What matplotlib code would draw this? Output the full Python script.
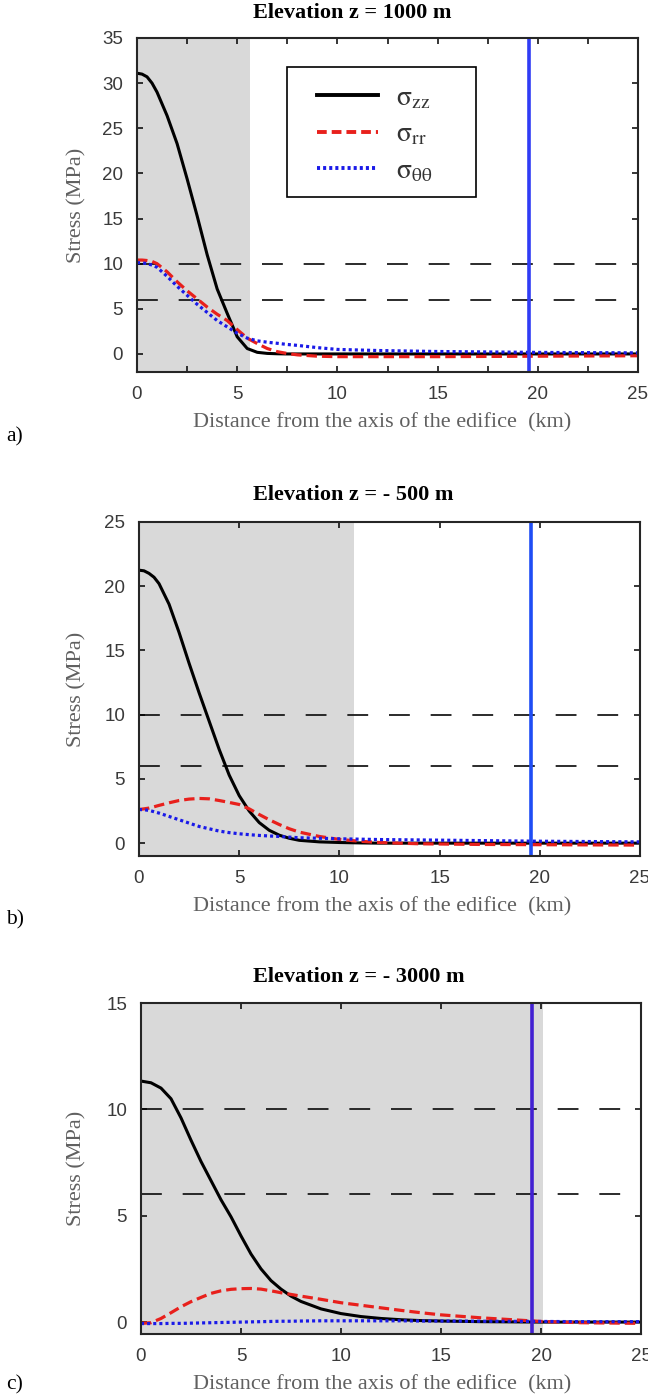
import numpy as np
import matplotlib
matplotlib.use("Agg")
from matplotlib import pyplot as plt
from matplotlib.lines import Line2D
from matplotlib.patches import Rectangle

plt.rcParams['mathtext.fontset'] = 'stix'
plt.rcParams['lines.scale_dashes'] = False

SANS = ['Liberation Sans', 'DejaVu Sans']
SERIF = ['Liberation Serif', 'DejaVu Serif']

# ---- data (km, MPa) ----
x_a = [0, 0.25, 0.5, 0.75, 1, 1.5, 2, 2.5, 3, 3.5, 4, 4.5, 5, 5.5, 6, 6.5, 7, 7.5, 8, 9, 10, 12, 15, 20, 25]
szz_a = [31.1, 31.0, 30.7, 30.0, 29.0, 26.4, 23.3, 19.4, 15.3, 11.0, 7.2, 4.5, 1.9, 0.6, 0.18, 0.06, 0.02,
         0, 0, 0, 0, 0, 0, 0, 0]
srr_a = [10.4, 10.4, 10.35, 10.25, 10.0, 9.1, 8.0, 7.0, 6.1, 5.2, 4.4, 3.7, 2.7, 1.75, 1.15, 0.6, 0.25,
         0.05, -0.1, -0.25, -0.3, -0.3, -0.3, -0.25, -0.2]
stt_a = [10.1, 10.1, 10.0, 9.85, 9.6, 8.6, 7.5, 6.5, 5.5, 4.6, 3.7, 3.0, 2.3, 1.75, 1.45, 1.3, 1.18,
         1.05, 0.95, 0.7, 0.5, 0.38, 0.27, 0.17, 0.12]

x_b = [0, 0.25, 0.5, 0.75, 1, 1.5, 2, 2.5, 3, 3.5, 4, 4.5, 5, 5.5, 6, 6.5, 7, 7.5, 8, 9, 10, 11, 12, 14,
       17, 20, 25]
szz_b = [21.25, 21.2, 21.0, 20.7, 20.2, 18.6, 16.4, 14.0, 11.7, 9.5, 7.3, 5.3, 3.7, 2.5, 1.6, 1.0, 0.62,
         0.38, 0.22, 0.1, 0.05, 0.02, 0, 0, 0, 0, 0]
srr_b = [2.62, 2.67, 2.73, 2.83, 2.94, 3.14, 3.32, 3.43, 3.48, 3.45, 3.32, 3.17, 3.01, 2.67, 2.23, 1.82,
         1.45, 1.12, 0.86, 0.52, 0.29, 0.15, 0.05, -0.05, -0.1, -0.12, -0.15]
stt_b = [2.62, 2.6, 2.55, 2.45, 2.34, 2.08, 1.82, 1.56, 1.3, 1.12, 0.94, 0.82, 0.73, 0.66, 0.6, 0.56,
         0.52, 0.47, 0.42, 0.38, 0.34, 0.31, 0.28, 0.25, 0.2, 0.15, 0.1]

x_c = [0, 0.5, 1, 1.5, 2, 2.5, 3, 3.5, 4, 4.5, 5, 5.5, 6, 6.5, 7, 7.5, 8, 9, 10, 11, 12, 13, 14, 15,
       17, 20, 22, 25]
szz_c = [11.33, 11.25, 11.0, 10.5, 9.6, 8.55, 7.55, 6.65, 5.75, 4.95, 4.05, 3.2, 2.5, 1.95, 1.55, 1.22,
         0.97, 0.62, 0.4, 0.26, 0.17, 0.11, 0.07, 0.05, 0.02, 0, 0, 0]
srr_c = [-0.06, -0.03, 0.17, 0.44, 0.72, 0.96, 1.16, 1.35, 1.47, 1.54, 1.57, 1.58, 1.55, 1.47, 1.38,
         1.30, 1.22, 1.07, 0.91, 0.79, 0.67, 0.55, 0.44, 0.34, 0.2, 0.03, -0.03, -0.06]
stt_c = [-0.07, -0.07, -0.07, -0.06, -0.06, -0.05, -0.04, -0.03, -0.02, -0.01, 0.0, 0.01, 0.02, 0.03,
         0.04, 0.04, 0.05, 0.06, 0.06, 0.06, 0.06, 0.06, 0.05, 0.05, 0.04, 0.03, 0.02, 0.02]

titles = ['Elevation z = 1000 m', 'Elevation z = - 500 m', 'Elevation z = - 3000 m']
letters = ['a)', 'b)', 'c)']
shade_end = [5.63, 10.75, 20.1]
ring_x = 19.55
thresholds = [10, 6]
ylims = [(-2, 35), (-1, 25), (-0.56, 15)]
xstep = [2.5, 5, 5]
vcolors = ['#2f3cf5', '#1f4df5', '#4220d2']

W, H = 648, 1397
fig = plt.figure(figsize=(W / 100, H / 100), dpi=100)

# axes boxes in pixels: left, top, right, bottom
boxes = [(137, 38, 638, 372), (139, 522, 640, 856), (141, 1003, 641, 1334)]
letter_y = [437, 920, 1385]
title_y = [13, 495, 977]

panels = [(x_a, szz_a, srr_a, stt_a), (x_b, szz_b, srr_b, stt_b), (x_c, szz_c, srr_c, stt_c)]

for i, (xs, zz, rr, tt) in enumerate(panels):
    l, t, r, b = boxes[i]
    ax = fig.add_axes([l / W, 1 - b / H, (r - l) / W, (b - t) / H])
    ax.axvspan(0, shade_end[i], color='#d9d9d9', lw=0, zorder=0)
    for th in thresholds:
        ax.axhline(th, color='#1a1a1a', lw=1.3, dashes=(15, 15), zorder=1)
    ax.plot(xs, zz, color='black', lw=2.2, zorder=3, solid_capstyle='butt')
    ax.plot(xs, rr, color='#e8201c', lw=2.3, dashes=(7.5, 3.6), zorder=4)
    ax.plot(xs, tt, color='#1a1ae8', lw=2.3, dashes=(2.2, 2.2), zorder=4)
    ax.axvline(ring_x, color=vcolors[i], lw=2.6, zorder=5)

    ax.set_xlim(0, 25)
    ax.set_ylim(*ylims[i])
    xt = np.arange(0, 25.01, xstep[i])
    ax.set_xticks(xt)
    ax.set_xticklabels(['%g' % v if v % 5 == 0 else '' for v in xt])
    ax.set_yticks(np.arange(0, ylims[i][1] + 0.01, 5))
    ax.tick_params(direction='in', length=4.5, width=1.1, top=True, right=True,
                   labelsize=13.5, labelcolor='#3a3a3a', pad=10)
    for lab in ax.get_xticklabels() + ax.get_yticklabels():
        lab.set_family(SANS)
    for sp in ax.spines.values():
        sp.set_linewidth(1.5)
        sp.set_color('#262626')
        sp.set_zorder(6)

    ax.set_ylabel('Stress (MPa)', family=SERIF, fontsize=16, color='#606060')
    ax.yaxis.set_label_coords((86 - l) / (r - l), 0.5)
    ax.set_xlabel('Distance from the axis of the edifice  (km)', family=SERIF, fontsize=16,
                  color='#606060')
    ax.xaxis.set_label_coords((382 - l) / (r - l), -(413 - 372) / (b - t))

    fig.text(253 / W, 1 - title_y[i] / H, titles[i], family=SERIF, fontsize=16,
             fontweight='bold', ha='left', va='center')
    fig.text(6 / W, 1 - letter_y[i] / H, letters[i], family=SERIF, fontsize=15.5,
             ha='left', va='center')

    if i == 0:
        # legend frame drawn separately so the entries can sit inside with MATLAB-like padding
        px_w, px_h = r - l, b - t
        ax.add_patch(Rectangle(((287 - l) / px_w, (b - 197) / px_h), (476 - 287) / px_w,
                               (197 - 67) / px_h, transform=ax.transAxes, facecolor='white',
                               edgecolor='black', lw=1.2, zorder=7))
        handles = [Line2D([], [], color='black', lw=2.8),
                   Line2D([], [], color='#e8201c', lw=2.8, dashes=(7, 3.6)),
                   Line2D([], [], color='#1a1ae8', lw=2.8, dashes=(2.2, 2.2))]
        labels = [r'$\mathrm{σ_{zz}}$', r'$\mathrm{σ_{rr}}$', r'$\mathrm{σ_{θθ}}$']
        leg = ax.legend(handles, labels, loc='upper left',
                        bbox_to_anchor=((317 - l) / px_w, (b - 83) / px_h),
                        fontsize=20, frameon=False, handlelength=2.2, handletextpad=0.65,
                        labelspacing=0.3, borderpad=0, borderaxespad=0)
        leg.set_zorder(8)
        for txt in leg.get_texts():
            txt.set_color('#333333')

fig.savefig('out.png', dpi=100)
